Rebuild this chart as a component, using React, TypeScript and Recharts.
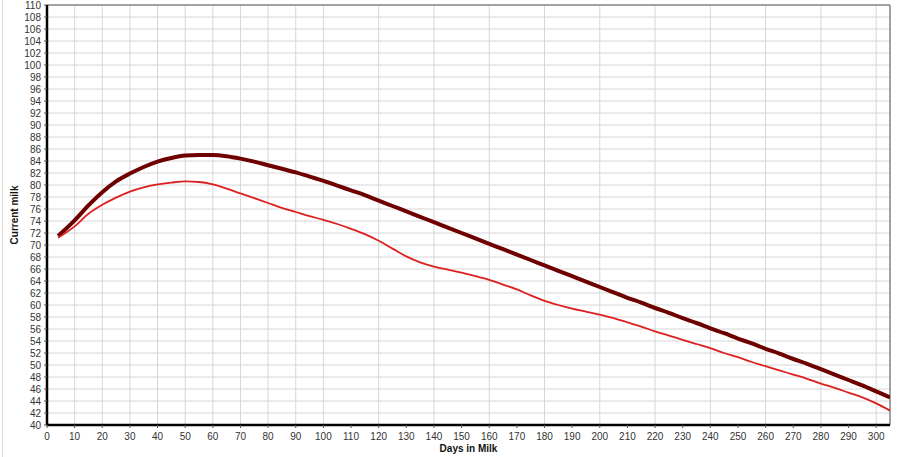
import { LineChart, Line, XAxis, YAxis, CartesianGrid, ReferenceLine } from 'recharts'

const DAYS = [
  4, 10, 15, 20, 25, 30, 35, 40, 45, 50, 55, 60, 65, 70, 75, 80, 85, 90, 95, 100,
  105, 110, 115, 120, 125, 130, 135, 140, 145, 150, 155, 160, 165, 170, 175, 180, 185, 190, 195, 200,
  205, 210, 215, 220, 225, 230, 235, 240, 245, 250, 255, 260, 265, 270, 275, 280, 285, 290, 295, 300, 305,
]

// thick dark curve
const STANDARD_MILK = [
  71.5, 74.1, 76.6, 78.8, 80.6, 81.9, 83.0, 83.9, 84.5, 84.9, 85.0, 85.0, 84.8, 84.4, 83.9, 83.3, 82.7, 82.1, 81.4, 80.7,
  79.9, 79.1, 78.3, 77.4, 76.5, 75.6, 74.7, 73.8, 72.9, 72.0, 71.1, 70.2, 69.3, 68.4, 67.5, 66.6, 65.7, 64.8, 63.9, 63.0,
  62.1, 61.2, 60.4, 59.5, 58.7, 57.8, 57.0, 56.1, 55.3, 54.4, 53.6, 52.7, 51.9, 51.0, 50.2, 49.3, 48.4, 47.5, 46.6, 45.6, 44.6,
]

// thin red curve
const ACTUAL_MILK = [
  71.2, 73.1, 75.2, 76.7, 77.9, 78.9, 79.6, 80.1, 80.4, 80.6, 80.5, 80.1, 79.4, 78.6, 77.8, 77.0, 76.2, 75.5, 74.8, 74.2,
  73.5, 72.7, 71.8, 70.7, 69.4, 68.1, 67.1, 66.4, 65.9, 65.4, 64.8, 64.2, 63.4, 62.6, 61.6, 60.7, 60.0, 59.4, 58.9, 58.4,
  57.8, 57.1, 56.4, 55.6, 54.9, 54.2, 53.5, 52.8, 52.0, 51.3, 50.5, 49.8, 49.1, 48.4, 47.7, 46.9, 46.2, 45.4, 44.6, 43.6, 42.4,
]

const X_TICKS = [0, 10, 20, 30, 40, 50, 60, 70, 80, 90, 100, 110, 120, 130, 140, 150, 160, 170, 180, 190, 200, 210, 220, 230, 240, 250, 260, 270, 280, 290, 300]
const Y_TICKS = [40, 42, 44, 46, 48, 50, 52, 54, 56, 58, 60, 62, 64, 66, 68, 70, 72, 74, 76, 78, 80, 82, 84, 86, 88, 90, 92, 94, 96, 98, 100, 102, 104, 106, 108, 110]
const X_MINOR_TICKS = Array.from({ length: 153 }, (_, i) => i * 2)

const data = DAYS.map((day, i) => ({ day, standard: STANDARD_MILK[i], actual: ACTUAL_MILK[i] }))

const tickStyle = { fontSize: 10, fill: '#333' }

export default function App() {
  return (
    <div style={{ width: 899, height: 457, position: 'relative', fontFamily: '"Liberation Sans", Arial, sans-serif', background: '#fff' }}>
      <style>{'body{margin:0}'}</style>
      <div style={{ position: 'absolute', left: 2, top: 0, width: 1, height: 457, background: '#dcdcdc' }} />
      <LineChart width={899} height={457} data={data} margin={{ top: 5, right: 9, bottom: 0, left: 0 }}>
        <CartesianGrid stroke="#d6d6d6" strokeWidth={1} />
        <XAxis
          xAxisId="minor"
          type="number"
          dataKey="day"
          domain={[0, 305]}
          ticks={X_MINOR_TICKS}
          tick={false}
          tickSize={2}
          tickLine={{ stroke: '#666' }}
          axisLine={false}
          height={0}
          allowDataOverflow
        />
        <XAxis
          type="number"
          dataKey="day"
          domain={[0, 305]}
          ticks={X_TICKS}
          tick={tickStyle}
          tickSize={3}
          tickMargin={5}
          tickLine={{ stroke: '#555' }}
          axisLine={{ stroke: '#000', strokeWidth: 2.5 }}
          height={32}
          allowDataOverflow
          label={{ value: 'Days in Milk', position: 'insideBottom', offset: 5, style: { fontSize: 10, fontWeight: 'bold', fill: '#111' } }}
        />
        <YAxis
          type="number"
          domain={[40, 110]}
          ticks={Y_TICKS}
          tick={tickStyle}
          tickSize={3}
          tickMargin={3}
          tickLine={{ stroke: '#555' }}
          axisLine={{ stroke: '#000', strokeWidth: 2.5 }}
          width={47}
          interval={0}
          allowDataOverflow
          label={{ value: 'Current milk', angle: -90, position: 'insideLeft', offset: 14, style: { textAnchor: 'middle', fontSize: 10, fontWeight: 'bold', fill: '#111' } }}
        />
        <ReferenceLine y={110} stroke="#8a8a8a" strokeWidth={1.5} />
        <ReferenceLine x={305} stroke="#8a8a8a" strokeWidth={1.5} />
        <Line
          type="monotone"
          dataKey="standard"
          stroke="#6e0000"
          strokeWidth={4}
          dot={false}
          activeDot={false}
          isAnimationActive={false}
        />
        <Line
          type="monotone"
          dataKey="actual"
          stroke="#de1f1f"
          strokeWidth={1.8}
          dot={false}
          activeDot={false}
          isAnimationActive={false}
        />
      </LineChart>
    </div>
  )
}
